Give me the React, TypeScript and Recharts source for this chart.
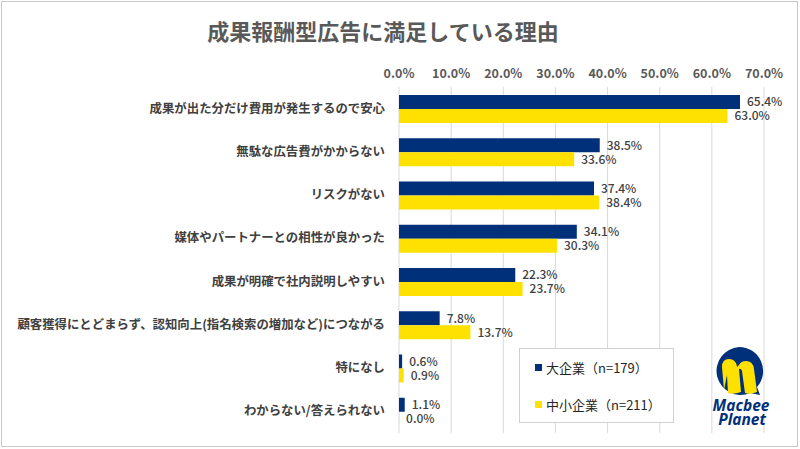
import React from "react";
import {
  Bar,
  BarChart,
  CartesianGrid,
  LabelList,
  Legend,
  XAxis,
  YAxis,
} from "recharts";

const categories = [
  "成果が出た分だけ費用が発生するので安心",
  "無駄な広告費がかからない",
  "リスクがない",
  "媒体やパートナーとの相性が良かった",
  "成果が明確で社内説明しやすい",
  "顧客獲得にとどまらず、認知向上(指名検索の増加など)につながる",
  "特になし",
  "わからない/答えられない",
];
const largeCompany = [65.4, 38.5, 37.4, 34.1, 22.3, 7.8, 0.6, 1.1];
const smallCompany = [63.0, 33.6, 38.4, 30.3, 23.7, 13.7, 0.9, 0.0];
const xTicks = [0, 10, 20, 30, 40, 50, 60, 70];

const seriesNames = ["大企業（n=179）", "中小企業（n=211）"];
const NAVY = "#00307a";
const YELLOW = "#ffe100";
const FONT = "'Noto Sans CJK JP', 'Noto Sans', sans-serif";

const data = categories.map((name, i) => ({
  name,
  large: largeCompany[i],
  small: smallCompany[i],
}));

const pct = (v: number) => `${Number(v).toFixed(1)}%`;

const CategoryTick = (props: any) => {
  const { x, y, payload } = props;
  return (
    <text
      x={x}
      y={y}
      dy={4}
      textAnchor="end"
      fill="#404040"
      fontSize={12.4}
      fontWeight={700}
      fontFamily={FONT}
    >
      {payload.value}
    </text>
  );
};

const LegendBox = () => (
  <div
    style={{
      width: 155,
      height: 75,
      border: "1px solid #d0d0d0",
      background: "#fff",
      fontFamily: FONT,
      fontSize: 13,
      color: "#262626",
      boxSizing: "border-box",
      paddingLeft: 15,
      paddingTop: 9,
    }}
  >
    {seriesNames.map((n, i) => (
      <div
        key={n}
        style={{
          display: "flex",
          alignItems: "center",
          height: 18,
          marginBottom: i === 0 ? 19 : 0,
        }}
      >
        <span
          style={{
            display: "inline-block",
            width: 7,
            height: 7,
            background: i === 0 ? NAVY : YELLOW,
            marginRight: 4,
          }}
        />
        {n}
      </div>
    ))}
  </div>
);

const Logo = () => (
  <svg
    width={90}
    height={100}
    style={{ position: "absolute", left: 700, top: 335 }}
  >
    <path
      d="M39 12 A24 24 0 1 0 50 58 L60 60 L57 52 A24 24 0 0 0 39 12 Z"
      fill={NAVY}
    />
    <path
      d="M24 55 L22 32 Q22 24 29 24 Q36 24 37 32 L39 30 Q41 26 46 26 Q53 26 54 34 L57 57 Q50 60 45 58 L42 36 Q41 33 39 34 L41 57 Q33 60 28 58 L27 40 Z"
      fill={YELLOW}
    />
    <text
      x={41}
      y={76}
      textAnchor="middle"
      fill={NAVY}
      fontSize={15.5}
      fontWeight={700}
      fontStyle="italic"
      fontFamily="'Open Sans', sans-serif"
    >
      Macbee
    </text>
    <text
      x={42}
      y={90}
      textAnchor="middle"
      fill={NAVY}
      fontSize={15.5}
      fontWeight={700}
      fontStyle="italic"
      fontFamily="'Open Sans', sans-serif"
    >
      Planet
    </text>
  </svg>
);

export default function App() {
  return (
    <div
      style={{
        position: "absolute",
        left: 0,
        top: 0,
        width: 800,
        height: 449,
        background: "#fff",
        fontFamily: FONT,
      }}
    >
      <div
        style={{
          position: "absolute",
          left: 1,
          top: 1,
          width: 797,
          height: 446,
          border: "1px solid #c8c8c8",
          boxSizing: "border-box",
        }}
      />
      <div
        style={{
          position: "absolute",
          left: 0,
          top: 15,
          width: 766,
          textAlign: "center",
          fontSize: 22,
          fontWeight: 700,
          color: "#595959",
          lineHeight: "30px",
        }}
      >
        成果報酬型広告に満足している理由
      </div>
      <div style={{ position: "absolute", left: 0, top: 0 }}>
        <BarChart
          width={800}
          height={449}
          data={data}
          layout="vertical"
          margin={{ top: 57, right: 36, left: 0, bottom: 16 }}
          barGap={0}
          barSize={14}
        >
          <CartesianGrid horizontal={false} stroke="#d9d9d9" />
          <XAxis
            type="number"
            orientation="top"
            domain={[0, 70]}
            ticks={xTicks}
            tickFormatter={pct}
            axisLine={false}
            tickLine={false}
            tickSize={0}
            tickMargin={9}
            height={30}
            tick={{
              fill: "#595959",
              fontSize: 12.5,
              fontWeight: 700,
              fontFamily: FONT,
            }}
          />
          <YAxis
            type="category"
            dataKey="name"
            width={399}
            axisLine={false}
            tickLine={false}
            tickMargin={8}
            interval={0}
            tick={<CategoryTick />}
          />
          <Legend
            layout="vertical"
            align="center"
            verticalAlign="middle"
            content={<LegendBox />}
            wrapperStyle={{ left: 519, top: 348, width: 155 }}
          />
          <Bar
            dataKey="large"
            name={seriesNames[0]}
            fill={NAVY}
            isAnimationActive={false}
          >
            <LabelList
              dataKey="large"
              position="right"
              offset={7}
              formatter={pct}
              fill="#404040"
              fontSize={12}
              fontWeight={500}
              fontFamily={FONT}
            />
          </Bar>
          <Bar
            dataKey="small"
            name={seriesNames[1]}
            fill={YELLOW}
            minPointSize={0.1}
            isAnimationActive={false}
          >
            <LabelList
              dataKey="small"
              position="right"
              offset={7}
              formatter={pct}
              fill="#404040"
              fontSize={12}
              fontWeight={500}
              fontFamily={FONT}
            />
          </Bar>
        </BarChart>
      </div>
      <Logo />
    </div>
  );
}
